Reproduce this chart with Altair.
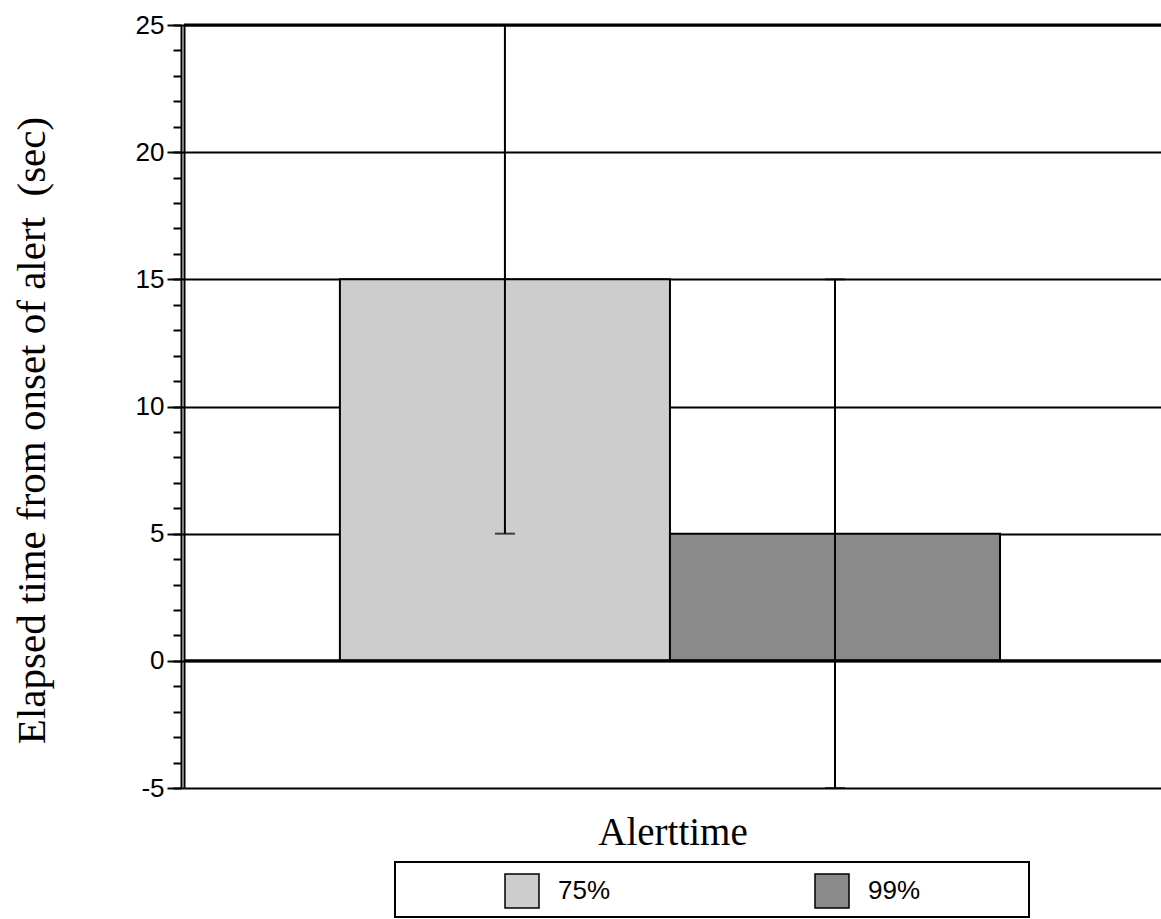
import altair as alt
import pandas as pd

# ---- data ----
conditions = ["75%", "99%"]
means = [15, 5]
lower = [5, -5]
upper = [25, 15]
bar_colors = ["#cdcdcd", "#8a8a8a"]
thick_lines = [0, 25]
y_ticks = [-5, 0, 5, 10, 15, 20, 25]
y_minor = list(range(-5, 26))

df = pd.DataFrame({"cond": conditions, "mean": means, "lo": lower, "hi": upper})
lines_df = pd.DataFrame({"yv": thick_lines})
one = pd.DataFrame({"a": [0]})

W, H = 977, 763
ydom = alt.Scale(domain=[-5, 25], nice=False, zero=False)
xscale = alt.Scale(paddingInner=0, paddingOuter=0.48, align=0.492)

x_axis = alt.Axis(labels=False, ticks=False, domain=False, grid=False,
                  title="Alerttime", titleFont="Liberation Serif",
                  titleFontSize=39, titleFontWeight="normal",
                  titleColor="black", titlePadding=25)


def xenc():
    return alt.X("cond:N", scale=xscale, sort=conditions, axis=x_axis)


main_axis = alt.Axis(values=y_ticks, tickSize=17, tickWidth=2, tickColor="black",
                     domain=True, domainColor="black", domainWidth=2,
                     grid=True, gridColor="black", gridWidth=2, gridOpacity=1,
                     labelFont="Liberation Sans", labelFontSize=26, labelColor="black",
                     labelPadding=3, orient="left", labelExpr="'' + datum.value",
                     title="Elapsed time from onset of alert \u00a0(sec)",
                     titleFont="Liberation Serif", titleFontSize=41,
                     titleFontWeight="normal", titleColor="black",
                     titlePadding=82, titleY=405)

minor_axis = alt.Axis(values=y_minor, tickSize=8, tickWidth=2, tickColor="black",
                      domain=True, domainColor="black", domainWidth=2,
                      grid=False, labels=False, title=None, offset=3, orient="left")

bars = alt.Chart(df).mark_bar(stroke="black", strokeWidth=2).encode(
    x=xenc(),
    y=alt.Y("mean:Q", scale=ydom, axis=main_axis),
    color=alt.Color("cond:N",
                    scale=alt.Scale(domain=conditions, range=bar_colors),
                    legend=alt.Legend(orient="none", legendX=320, legendY=848,
                                      direction="horizontal", title=None,
                                      symbolType="square", symbolSize=1156,
                                      symbolStrokeColor="black", symbolStrokeWidth=1.5,
                                      labelFont="Liberation Sans", labelFontSize=26,
                                      labelColor="black", labelOffset=18,
                                      columnPadding=201, padding=0)),
)

thick = alt.Chart(lines_df).mark_rule(color="black", strokeWidth=3).encode(
    y=alt.Y("yv:Q", scale=ydom, axis=None)
)

err = alt.Chart(df).mark_rule(color="black", strokeWidth=2).encode(
    x=xenc(),
    y=alt.Y("lo:Q", scale=ydom, axis=minor_axis),
    y2="hi:Q",
)

cap_lo = alt.Chart(df).mark_tick(color="black", size=20, thickness=2).encode(
    x=xenc(),
    y=alt.Y("lo:Q", scale=ydom, axis=None),
)
cap_hi = alt.Chart(df).mark_tick(color="black", size=20, thickness=2).encode(
    x=xenc(),
    y=alt.Y("hi:Q", scale=ydom, axis=None),
)

box = alt.Chart(one).mark_rect(filled=False, stroke="black", strokeWidth=2).encode(
    x=alt.value(211), x2=alt.value(845), y=alt.value(837), y2=alt.value(892)
)

chart = alt.layer(bars, thick, err, cap_lo, cap_hi, box).resolve_axis(
    y="independent"
).properties(
    width=W, height=H,
    autosize=alt.AutoSizeParams(type="none"),
    padding={"left": 184, "top": 25, "right": 0, "bottom": 131},
    background="white",
).configure_view(stroke=None)

chart.save("out.html", embed_options={"renderer": "svg", "actions": False})
